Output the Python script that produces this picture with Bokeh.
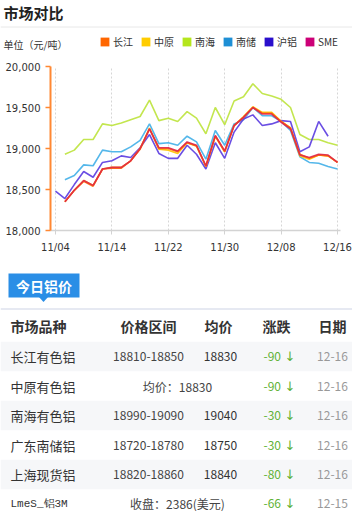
import math
from bokeh.plotting import figure
from bokeh.models import (Range1d, FixedTicker, NumeralTickFormatter, Legend,
                          LegendItem)
from bokeh.layouts import column
from bokeh.embed import file_html
from bokeh.resources import INLINE
from bokeh.core.properties import value

nan = float("nan")

# ---------------- data ----------------
title_text = "市场对比"
unit_text = "单位（元/吨）"

x_idx = list(range(31))
tick_idx = [0, 6, 12, 18, 24, 30]
tick_labels = ["11/04", "11/14", "11/22", "11/30", "12/08", "12/16"]
y_ticks = [18000, 18500, 19000, 19500, 20000]

series_names = ["长江", "中原", "南海", "南储", "沪铝", "SME"]

changjiang = [nan, 18350, 18490, 18600, 18540, 18750, 18760, 18760, 18850, 18990,
              19240, 19000, 19000, 18960, 19070, 19030, 18780, 19150, 18960, 19280,
              19380, 19500, 19430, 19430, 19330, 19250, 18930, 18880, 18920, 18910, 18830]
zhongyuan = [nan, 18350, 18490, 18610, 18550, 18750, 18770, 18770, 18850, 19000,
             19250, 18990, 18980, 18940, 19070, 19030, 18780, 19150, 18960, 19280,
             19390, 19510, 19440, 19440, 19330, 19250, 18910, 18870, 18920, 18910, 18830]
nanhai = [nan, 18930, 18980, 19110, 19110, 19300, 19280, 19310, 19350, 19390,
          19590, 19340, 19370, 19330, 19450, 19370, 19180, 19500, 19290, 19580,
          19630, 19790, 19670, 19640, 19600, 19500, 19170, 19110, 19110, 19070, 19040]
nanchu = [nan, 18620, 18670, 18800, 18790, 18980, 18960, 18960, 19020, 19100,
          19300, 19060, 19070, 19040, 19150, 19080, 18870, 19220, 19040, 19300,
          19350, 19500, 19400, 19400, 19330, 19220, 18900, 18830, 18820, 18780, 18750]
hulv = [18480, 18390, 18560, 18720, 18650, 18830, 18850, 18910, 18890, 19010,
        19170, 18940, 18880, 18880, 19040, 18930, 18750, 19070, 18880, 19200,
        19360, 19410, 19280, 19300, 19340, 19330, 18960, 19020, 19330, 19150, nan]
sme = [nan, 18350, 18490, 18610, 18550, 18750, 18770, 18770, 18850, 19000,
       19240, 19010, 19010, 18970, 19080, 19040, 18790, 19160, 18970, 19280,
       19380, 19500, 19420, 19420, 19320, 19240, 18920, 18890, 18930, 18920, 18830]

series_values = [changjiang, zhongyuan, nanhai, nanchu, hulv, sme]
legend_colors = ["#ff6600", "#ffcc00", "#b5e61d", "#1e8fd5", "#2a0fcc", "#cc0077"]
line_colors = ["#ff6a00", "#ffc400", "#bde33c", "#41afe8", "#5a3be0", "#e0264a"]
draw_order = [2, 3, 4, 1, 0, 5]

tab_text = "今日铝价"
table_header = ["市场品种", "价格区间", "均价", "涨跌", "日期"]
markets = ["长江有色铝", "中原有色铝", "南海有色铝", "广东南储铝", "上海现货铝", "LmeS_铝3M"]
price_ranges = ["18810-18850", "", "18990-19090", "18720-18780", "18820-18860", ""]
avg_prices = ["18830", "", "19040", "18750", "18840", ""]
merged_cells = ["", "均价：18830", "", "", "", "收盘：2386(美元)"]
changes = [-90, -90, -30, -30, -80, -66]
row_dates = ["12-16", "12-16", "12-16", "12-16", "12-16", "12-15"]

# ---------------- layout constants ----------------
W = 352
CJK = "Noto Sans CJK SC"
H_HDR, H_CH, H_TB = 56, 209, 246


def bare(fig):
    fig.outline_line_color = None
    fig.grid.visible = False
    fig.background_fill_color = "white"
    fig.border_fill_color = "white"


# ---------------- header (title, unit, legend) ----------------
hdr = figure(width=W, height=H_HDR, x_range=Range1d(0, W), y_range=Range1d(H_HDR, 0),
             x_axis_type=None, y_axis_type=None, output_backend="svg",
             toolbar_location=None, min_border=0, frame_align=False)
bare(hdr)
hdr.text(x=[3], y=[11.5], text=[title_text], text_font=value(CJK), text_font_style="bold",
         text_font_size="15px", text_baseline="middle", text_color="#222222")
hdr.segment(x0=[0], y0=[26.5], x1=[W], y1=[26.5], line_color="#e8e8e8", line_width=1)
hdr.text(x=[3], y=[44], text=[unit_text], text_font=value(CJK), text_font_size="10px",
         text_baseline="middle", text_color="#333333")

items = []
for name, col in zip(series_names, legend_colors):
    r = hdr.rect(x=[nan], y=[nan], width=1, height=1, fill_color=col, line_color=None)
    items.append(LegendItem(label=name, renderers=[r]))

legend = Legend(items=items, orientation="horizontal", location=(99, 7),
                glyph_width=11, glyph_height=11, label_height=11, label_width=20,
                label_standoff=3, spacing=7, padding=0, margin=0,
                border_line_color=None, background_fill_alpha=0,
                label_text_font=CJK, label_text_font_size="10px",
                label_text_color="#333333", label_text_baseline="middle")
hdr.add_layout(legend)

# ---------------- chart ----------------
ch = figure(width=W, height=H_CH, x_range=Range1d(-0.532, 30.32),
            y_range=Range1d(18000, 20000), output_backend="svg",
            toolbar_location=None, min_border_left=50, min_border_right=12,
            min_border_top=10, min_border_bottom=35, frame_align=False)
ch.outline_line_color = None
ch.background_fill_color = "white"
ch.ygrid.grid_line_color = None
ch.xgrid.grid_line_color = "#d6d6d6"
ch.xgrid.grid_line_dash = "2 2"
ch.xgrid.grid_line_width = 1

ch.xaxis.ticker = FixedTicker(ticks=tick_idx)
ch.xaxis.major_label_overrides = {i: lab for i, lab in zip(tick_idx, tick_labels)}
ch.xaxis.axis_line_color = "#d3d3d3"
ch.xaxis.axis_line_width = 1.5
ch.xaxis.major_tick_line_color = "#d3d3d3"
ch.xaxis.major_tick_out = 4
ch.xaxis.major_tick_in = 0
ch.xaxis.minor_tick_line_color = None
ch.xaxis.major_label_standoff = 7
ch.xaxis.major_label_text_font = "DejaVu Sans"
ch.xaxis.major_label_text_font_size = "10px"
ch.xaxis.major_label_text_color = "#333333"

ch.yaxis.ticker = FixedTicker(ticks=y_ticks)
ch.yaxis.formatter = NumeralTickFormatter(format="0,0")
ch.yaxis.axis_line_color = "#ff8833"
ch.yaxis.axis_line_width = 2
ch.yaxis.major_tick_line_color = "#ff8833"
ch.yaxis.major_tick_line_width = 1.5
ch.yaxis.major_tick_out = 5
ch.yaxis.major_tick_in = 0
ch.yaxis.minor_tick_line_color = None
ch.yaxis.major_label_standoff = 5
ch.yaxis.major_label_text_font = "DejaVu Sans"
ch.yaxis.major_label_text_font_size = "10px"
ch.yaxis.major_label_text_color = "#333333"

for k in draw_order:
    ch.line(x_idx, series_values[k], line_color=line_colors[k], line_width=1.6,
            line_alpha=0.9)

# ---------------- table ----------------
T0 = H_HDR + H_CH
tb = figure(width=W, height=H_TB, x_range=Range1d(0, W), y_range=Range1d(T0 + H_TB, T0),
            x_axis_type=None, y_axis_type=None, output_backend="svg",
            toolbar_location=None, min_border=0, frame_align=False)
bare(tb)

tb.quad(left=[8], right=[79], top=[273], bottom=[297], fill_color="#2a8ee6", line_color=None)
tb.patch([38, 48, 43], [296, 296, 301.5], fill_color="#2a8ee6", line_color=None)
tb.text(x=[43.5], y=[285.5], text=[tab_text], text_font=value(CJK), text_font_style="bold",
        text_font_size="14px", text_align="center", text_baseline="middle", text_color="white")
tb.segment(x0=[0], y0=[308.5], x1=[W], y1=[308.5], line_color="#e6e9f2", line_width=2)

row_y = [356, 385.5, 415, 444.5, 474, 503]
band_rows = [0, 2, 4]
tb.quad(left=[0] * len(band_rows), right=[W] * len(band_rows),
        top=[row_y[i] - 14.75 for i in band_rows], bottom=[row_y[i] + 14.75 for i in band_rows],
        fill_color="#f6f7f9", line_color=None)

hdr_y = 325
hdr_x = [10, 148, 218, 276, 332]
hdr_align = ["left", "center", "center", "center", "center"]
for txt, hx, al in zip(table_header, hdr_x, hdr_align):
    tb.text(x=[hx], y=[hdr_y], text=[txt], text_font=value(CJK), text_font_style="bold",
            text_font_size="14px", text_align=al, text_baseline="middle",
            text_color="#333333")

for i, yy in enumerate(row_y):
    if markets[i].startswith("Lme"):
        tb.text(x=[10], y=[yy], text=[markets[i]], text_font=value("Liberation Mono"),
                text_font_size="11px", text_baseline="middle", text_color="#333333")
    else:
        tb.text(x=[10], y=[yy], text=[markets[i]], text_font=value(CJK),
                text_font_size="13px", text_baseline="middle", text_color="#333333")
    if price_ranges[i]:
        tb.text(x=[148], y=[yy], text=[price_ranges[i]], text_font=value(CJK),
                text_font_size="12px", text_align="center", text_baseline="middle",
                text_color="#444444")
    if avg_prices[i]:
        tb.text(x=[220], y=[yy], text=[avg_prices[i]], text_font=value(CJK),
                text_font_size="12px", text_align="center", text_baseline="middle",
                text_color="#333333")
    if merged_cells[i]:
        tb.text(x=[177], y=[yy], text=[merged_cells[i]], text_font=value(CJK),
                text_font_size="12px", text_align="center", text_baseline="middle",
                text_color="#444444")
    chg = changes[i]
    green = "#5fb236" if chg < 0 else "#e03030"
    tb.text(x=[263], y=[yy], text=[str(chg)], text_font=value(CJK),
            text_font_size="12px", text_baseline="middle", text_color=green)
    tb.text(x=[284], y=[yy], text=["↓" if chg < 0 else "↑"], text_font=value("DejaVu Sans"),
            text_font_size="13px", text_baseline="middle", text_color=green)
    tb.text(x=[332], y=[yy], text=[row_dates[i]], text_font=value(CJK),
            text_font_size="12px", text_align="center", text_baseline="middle",
            text_color="#999999")

layout = column(hdr, ch, tb)
open("out.html", "w").write(file_html(layout, INLINE))
